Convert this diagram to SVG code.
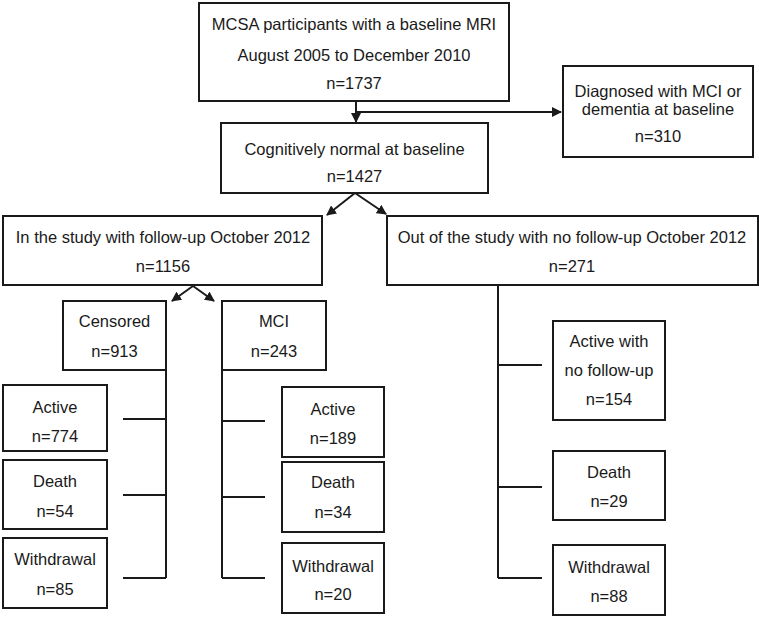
<svg xmlns="http://www.w3.org/2000/svg" width="759" height="617" viewBox="0 0 759 617">
<style>
rect{fill:#fff;stroke:#1a1a1a;stroke-width:2}
text{font-family:"Liberation Sans",Arial,sans-serif;font-size:16.5px;fill:#1a1a1a;text-anchor:middle}
.c{fill:none;stroke:#1a1a1a;stroke-width:2}
</style>
<defs>
<marker id="ah" viewBox="0 0 10 10" refX="9" refY="5" markerWidth="5" markerHeight="5" orient="auto" markerUnits="strokeWidth">
<path d="M0,0 L10,5 L0,10 z" fill="#1a1a1a"/>
</marker>
</defs>
<rect x="0" y="0" width="759" height="617" style="fill:#fff;stroke:none"/>
<g id="connectors">
<path class="c" d="M356,101 V122" marker-end="url(#ah)"/>
<path class="c" d="M356,112 H561" marker-end="url(#ah)"/>
<path class="c" d="M355,193 L327,215" marker-end="url(#ah)"/>
<path class="c" d="M355,193 L386,214" marker-end="url(#ah)"/>
<path class="c" d="M193,286 L172,301" marker-end="url(#ah)"/>
<path class="c" d="M193,286 L214,301" marker-end="url(#ah)"/>
<path class="c" d="M166,370 V578 M123,419 H166 M123,495 H166 M123,578 H166"/>
<path class="c" d="M222,370 V578 M222,421 H265 M222,497 H265 M222,578 H265"/>
<path class="c" d="M498,285 V578 M498,365 H542 M498,487 H542 M498,578 H542"/>
</g>
<g id="n-mcsa">
<rect x="199" y="3" width="310" height="98"/>
<text x="354" y="30">MCSA participants with a baseline MRI</text>
<text x="354" y="61">August 2005 to December 2010</text>
<text x="354" y="89">n=1737</text>
</g>
<g id="n-diag">
<rect x="563" y="66" width="190" height="91"/>
<text x="658" y="97">Diagnosed with MCI or</text>
<text x="658" y="115">dementia at baseline</text>
<text x="658" y="142">n=310</text>
</g>
<g id="n-cn">
<rect x="221" y="123" width="267" height="70"/>
<text x="354.5" y="155">Cognitively normal at baseline</text>
<text x="354.5" y="182">n=1427</text>
</g>
<g id="n-in">
<rect x="3" y="216" width="319" height="69"/>
<text x="163" y="243">In the study with follow-up October 2012</text>
<text x="163" y="272">n=1156</text>
</g>
<g id="n-out">
<rect x="387" y="216" width="371" height="69"/>
<text x="572" y="243">Out of the study with no follow-up October 2012</text>
<text x="572" y="272">n=271</text>
</g>
<g id="n-censored">
<rect x="63" y="301" width="103" height="69"/>
<text x="114.5" y="327">Censored</text>
<text x="114.5" y="357">n=913</text>
</g>
<g id="n-mci">
<rect x="222" y="301" width="104" height="69"/>
<text x="274" y="327">MCI</text>
<text x="274" y="357">n=243</text>
</g>
<g id="n-c-active">
<rect x="3" y="385" width="104" height="66"/>
<text x="55" y="413">Active</text>
<text x="55" y="442">n=774</text>
</g>
<g id="n-c-death">
<rect x="3" y="460" width="104" height="69"/>
<text x="55" y="487">Death</text>
<text x="55" y="517">n=54</text>
</g>
<g id="n-c-withdrawal">
<rect x="3" y="538" width="104" height="70"/>
<text x="55" y="565">Withdrawal</text>
<text x="55" y="595">n=85</text>
</g>
<g id="n-m-active">
<rect x="282" y="387" width="102" height="70"/>
<text x="333" y="415">Active</text>
<text x="333" y="444">n=189</text>
</g>
<g id="n-m-death">
<rect x="282" y="462" width="102" height="70"/>
<text x="333" y="488">Death</text>
<text x="333" y="518">n=34</text>
</g>
<g id="n-m-withdrawal">
<rect x="282" y="543" width="102" height="70"/>
<text x="333" y="572">Withdrawal</text>
<text x="333" y="600">n=20</text>
</g>
<g id="n-o-active">
<rect x="553" y="321" width="112" height="99"/>
<text x="609" y="347">Active with</text>
<text x="609" y="376">no follow-up</text>
<text x="609" y="405">n=154</text>
</g>
<g id="n-o-death">
<rect x="553" y="451" width="112" height="69"/>
<text x="609" y="478">Death</text>
<text x="609" y="507">n=29</text>
</g>
<g id="n-o-withdrawal">
<rect x="553" y="545" width="112" height="70"/>
<text x="609" y="573">Withdrawal</text>
<text x="609" y="602">n=88</text>
</g>
</svg>
